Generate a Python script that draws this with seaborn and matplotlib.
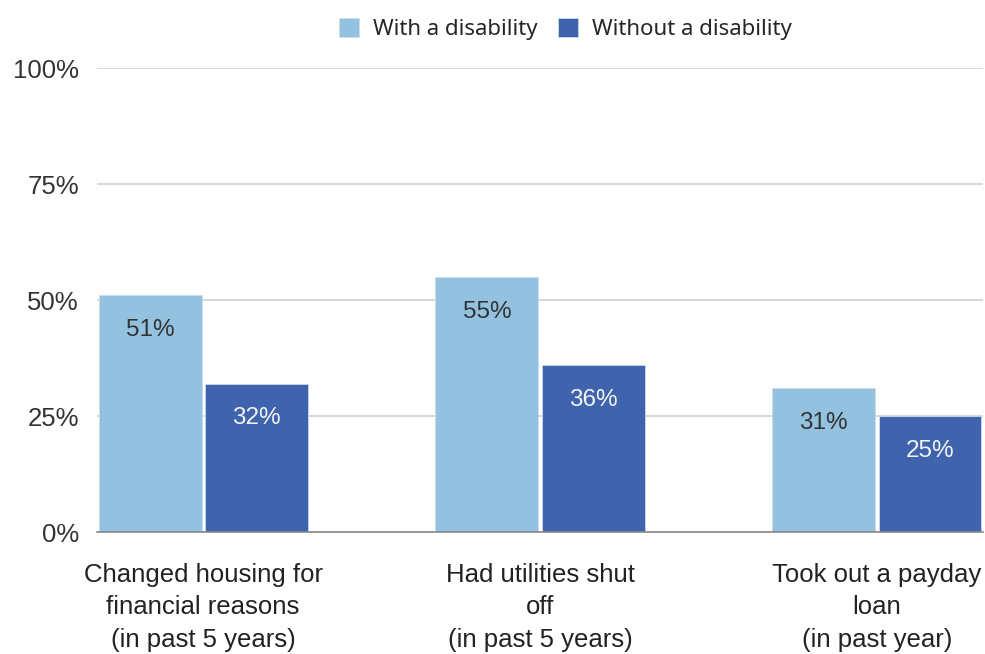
import matplotlib
matplotlib.use("Agg")
import matplotlib.pyplot as plt
import seaborn as sns
import pandas as pd

categories = [
    "Changed housing for\nfinancial reasons\n(in past 5 years)",
    "Had utilities shut\noff\n(in past 5 years)",
    "Took out a payday\nloan\n(in past year)",
]
groups = ["With a disability", "Without a disability"]
with_disability = [51, 55, 31]
without_disability = [32, 36, 25]
y_ticks = [0, 25, 50, 75, 100]
y_tick_labels = ["0%", "25%", "50%", "75%", "100%"]

colors = {"With a disability": "#92c2e0", "Without a disability": "#3f64ad"}
label_colors = {"With a disability": "#333333", "Without a disability": "#f2f2f2"}

df = pd.DataFrame({
    "category": categories * 2,
    "group": [groups[0]] * 3 + [groups[1]] * 3,
    "value": with_disability + without_disability,
})

sns.set_theme(style="white")
plt.rcParams["font.family"] = ["Liberation Sans", "DejaVu Sans"]

fig = plt.figure(figsize=(9.85, 6.54), dpi=100)
ax = fig.add_axes([0.0985, 0.1865, 0.8995, 0.7095])

sns.barplot(
    data=df, x="category", y="value", hue="group", order=categories,
    hue_order=groups, palette=colors, saturation=1, width=0.63, gap=0.03,
    edgecolor="#c8dcea", linewidth=0.6, legend=True, ax=ax,
)

ax.set_xlim(-0.315, 2.315)
ax.set_ylim(0, 100)
ax.set_yticks(y_ticks)
ax.set_yticklabels(y_tick_labels, fontsize=18.5, color="#333333")
ax.yaxis.grid(True, color="#d4d4d4", linewidth=1.3)
ax.set_axisbelow(True)
ax.tick_params(axis="y", length=0, pad=13)
ax.tick_params(axis="x", length=0, pad=22)
ax.set_xticks(range(len(categories)))
ax.set_xticklabels(categories, fontsize=18.5, color="#222222",
                   family=["Liberation Sans Narrow", "Liberation Sans", "DejaVu Sans"],
                   linespacing=1.45)
ax.set_xlabel("")
ax.set_ylabel("")
for side in ["top", "right", "left"]:
    ax.spines[side].set_visible(False)
ax.spines["bottom"].set_color("#888888")
ax.spines["bottom"].set_linewidth(1.2)

# value labels placed just inside the top of each bar
for container, grp in zip(ax.containers, groups):
    vals = with_disability if grp == groups[0] else without_disability
    for patch, v in zip(container.patches, vals):
        cx = patch.get_x() + patch.get_width() / 2
        ax.annotate(f"{v}%", xy=(cx, v), xytext=(0, -25), textcoords="offset points",
                    ha="center", va="center", fontsize=17.5, color=label_colors[grp])

handles, labels = ax.get_legend_handles_labels()
ax.get_legend().remove()
fig.legend(handles, labels, loc="upper center", bbox_to_anchor=(0.574, 1.003),
           ncol=2, frameon=False, handlelength=0.9, handleheight=0.95,
           handletextpad=0.65, columnspacing=0.9,
           prop={"family": ["Noto Sans", "DejaVu Sans"], "size": 16})

fig.savefig("out.png", dpi=100, facecolor="white")
